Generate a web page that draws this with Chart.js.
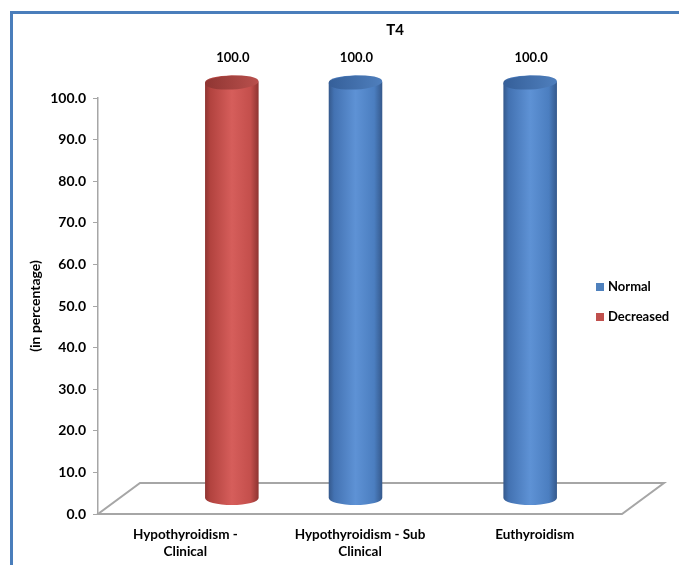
<!DOCTYPE html>
<html>
<head>
<meta charset="utf-8">
<script src="https://cdn.jsdelivr.net/npm/chart.js@4/dist/chart.umd.min.js"></script>
<style>
  html, body { margin: 0; padding: 0; background: #ffffff; }
  #wrap { width: 679px; height: 565px; position: relative; }
</style>
</head>
<body>
<div id="wrap"><canvas id="chart" width="679" height="565"></canvas></div>
<script>
// ---- data ----
const chartTitle = "T4";
const categories = [["Hypothyroidism -", "Clinical"], ["Hypothyroidism - Sub", "Clinical"], "Euthyroidism"];
const seriesNames = ["Normal", "Decreased"];
const normalValues = [0, 100, 100];
const decreasedValues = [100, 0, 0];
const yMin = 0, yMax = 100, yStep = 10;
const yAxisTitle = "(in percentage)";

// ---- styling ----
const seriesColors = ["#4f81bd", "#c0504d"];
const shades = {
  "#4f81bd": { edge: "#35598c", dark: "#4372b2", light: "#5e92d5", mid: "#4b7ec0", topA: "#355f99", topB: "#4f7fbd" },
  "#c0504d": { edge: "#8e3431", dark: "#b2433f", light: "#d65e5b", mid: "#c44f4c", topA: "#8f3532", topB: "#b9504d" }
};
const FONT = "Lato, 'Liberation Sans', sans-serif";
const DEPTH_X = 42, DEPTH_Y = 31;          // floor depth offset
const BAR_DX = DEPTH_X / 2, BAR_DY = DEPTH_Y / 2; // bars stand mid-depth
const ELLIPSE_RY = 7;

function drawCylinder(ctx, cx, top, bottom, w, s) {
  const rx = w / 2, ry = ELLIPSE_RY;
  const g = ctx.createLinearGradient(cx - rx, 0, cx + rx, 0);
  g.addColorStop(0, s.edge);
  g.addColorStop(0.1, s.dark);
  g.addColorStop(0.5, s.light);
  g.addColorStop(0.85, s.mid);
  g.addColorStop(1, s.edge);
  ctx.beginPath();
  ctx.moveTo(cx - rx, top);
  ctx.lineTo(cx - rx, bottom);
  ctx.ellipse(cx, bottom, rx, ry, 0, Math.PI, 0, true);
  ctx.lineTo(cx + rx, top);
  ctx.ellipse(cx, top, rx, ry, 0, 0, Math.PI, true);
  ctx.closePath();
  ctx.fillStyle = g;
  ctx.fill();
  const gt = ctx.createLinearGradient(cx - rx, top, cx + rx, top);
  gt.addColorStop(0, s.topA);
  gt.addColorStop(1, s.topB);
  ctx.beginPath();
  ctx.ellipse(cx, top, rx, ry, -0.05, 0, Math.PI * 2);
  ctx.fillStyle = gt;
  ctx.fill();
}

const framePlugin = {
  id: "frame",
  beforeDraw(chart) {
    const ctx = chart.ctx;
    ctx.save();
    ctx.fillStyle = "#ffffff";
    ctx.fillRect(0, 0, chart.width, chart.height);
    ctx.strokeStyle = "#4a7ebb";
    ctx.lineWidth = 3;
    ctx.strokeRect(11.5, 12.5, chart.width + 20, chart.height + 20);
    ctx.restore();
  }
};

const cylinderPlugin = {
  id: "cylinders",
  beforeDatasetsDraw(chart) {
    const ctx = chart.ctx;
    const { left, right } = chart.chartArea;
    const y0 = chart.scales.y.getPixelForValue(0);
    ctx.save();
    // floor
    ctx.beginPath();
    ctx.moveTo(left, y0);
    ctx.lineTo(right, y0);
    ctx.lineTo(right + DEPTH_X, y0 - DEPTH_Y);
    ctx.lineTo(left + DEPTH_X, y0 - DEPTH_Y);
    ctx.closePath();
    ctx.strokeStyle = "#a6a6a6";
    ctx.lineWidth = 2;
    ctx.stroke();
    // bars as cylinders
    chart.data.datasets.forEach((ds, di) => {
      const meta = chart.getDatasetMeta(di);
      meta.data.forEach((el, i) => {
        const v = ds.data[i];
        if (!v) return;
        const p = el.getProps(["x", "y", "base", "width"], true);
        drawCylinder(ctx, p.x + BAR_DX, p.y - BAR_DY, p.base - BAR_DY, p.width, shades[ds.backgroundColor]);
      });
    });
    ctx.restore();
    return false;
  },
  afterDraw(chart) {
    const ctx = chart.ctx;
    ctx.save();
    ctx.fillStyle = "#000000";
    // title
    ctx.font = "bold 15px " + FONT;
    ctx.textAlign = "center";
    ctx.textBaseline = "middle";
    ctx.fillText(chartTitle, 395, 30);
    // value labels
    ctx.font = "bold 13px " + FONT;
    chart.data.datasets.forEach((ds, di) => {
      const meta = chart.getDatasetMeta(di);
      meta.data.forEach((el, i) => {
        const v = ds.data[i];
        if (!v) return;
        const p = el.getProps(["x", "y"], true);
        ctx.fillText(v.toFixed(1), p.x + BAR_DX + 1, p.y - BAR_DY - 25);
      });
    });
    // legend
    ctx.textAlign = "left";
    ctx.font = "bold 13px " + FONT;
    chart.data.datasets.forEach((ds, di) => {
      const y = 287 + di * 30;
      ctx.fillStyle = ds.backgroundColor;
      ctx.fillRect(596, y - 4, 8, 8);
      ctx.fillStyle = "#000000";
      ctx.fillText(ds.label, 608, y);
    });
    ctx.restore();
  }
};

new Chart(document.getElementById("chart"), {
  type: "bar",
  data: {
    labels: categories,
    datasets: [
      { label: seriesNames[0], data: normalValues, backgroundColor: seriesColors[0] },
      { label: seriesNames[1], data: decreasedValues, backgroundColor: seriesColors[1] }
    ]
  },
  options: {
    responsive: false,
    animation: false,
    devicePixelRatio: 1,
    categoryPercentage: 0.584,
    barPercentage: 1.05,
    layout: { padding: { left: 23, right: 57, top: 98, bottom: 0 } },
    plugins: { legend: { display: false }, title: { display: false }, tooltip: { enabled: false } },
    scales: {
      x: {
        afterFit(scale) { scale.height = 51; },
        grid: { display: false, drawTicks: false },
        border: { display: false },
        ticks: { color: "#000000", font: { family: FONT, size: 13.5, weight: "bold" }, padding: 13, maxRotation: 0, autoSkip: false }
      },
      y: {
        min: yMin, max: yMax,
        afterFit(scale) { scale.width = 75; },
        grid: { drawOnChartArea: false, drawTicks: true, tickLength: 5, color: "#a6a6a6" },
        border: { display: true, color: "#a6a6a6", width: 1.5 },
        ticks: { stepSize: yStep, color: "#000000", padding: 7, font: { family: FONT, size: 14, weight: "bold" }, callback: v => Number(v).toFixed(1) },
        title: { display: true, text: yAxisTitle, color: "#000000", font: { family: FONT, size: 14, weight: "bold" } }
      }
    }
  },
  plugins: [framePlugin, cylinderPlugin]
});
</script>
</body>
</html>
